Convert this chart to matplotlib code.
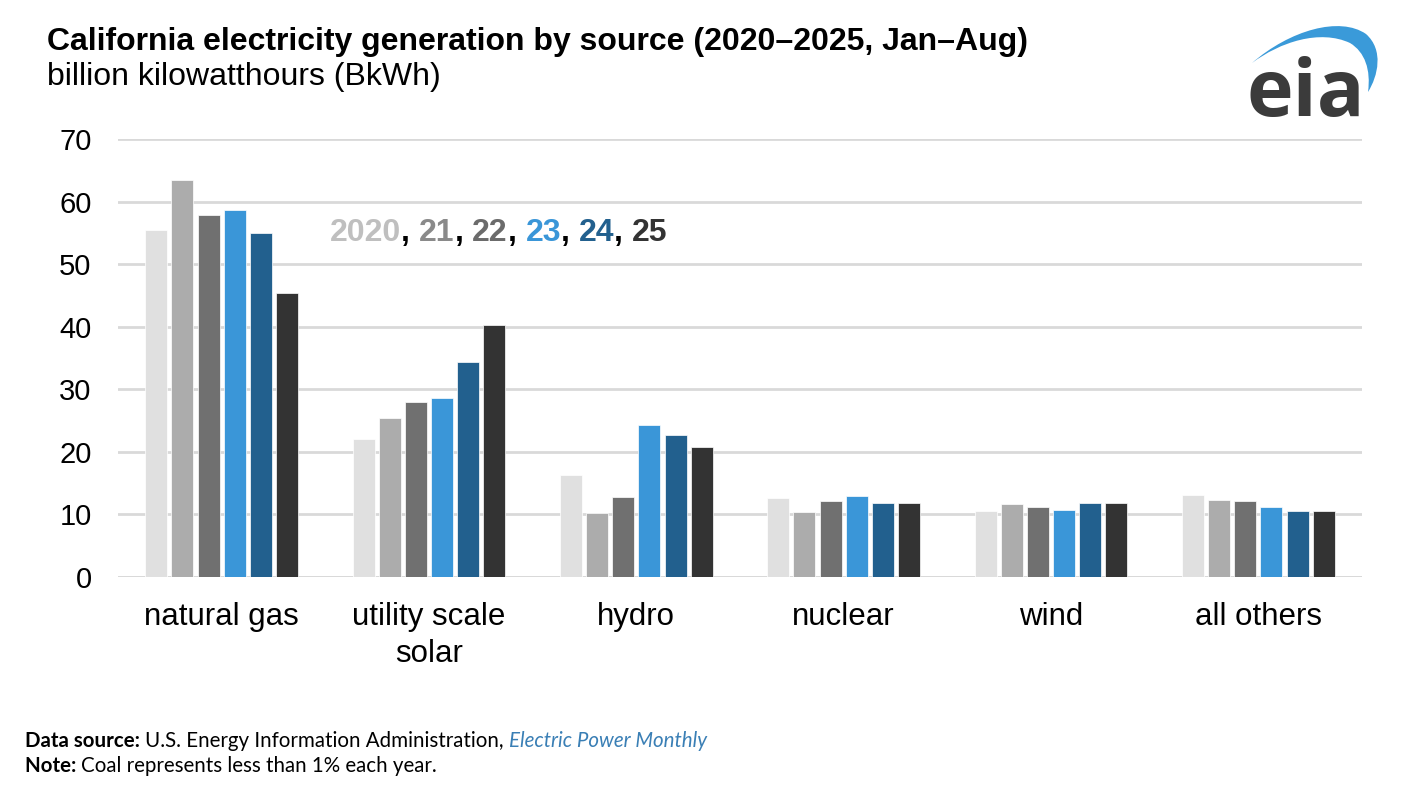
import matplotlib
matplotlib.use("Agg")
import matplotlib.pyplot as plt
import numpy as np
from matplotlib.patches import PathPatch
from matplotlib.path import Path

plt.rcParams["font.family"] = ["Liberation Sans", "DejaVu Sans"]

categories = ["natural gas", "utility scale\nsolar", "hydro", "nuclear", "wind", "all others"]
years = ["2020", "21", "22", "23", "24", "25"]
bar_colors = ["#e0e0e0", "#acacac", "#707070", "#3a96d8", "#22608e", "#333333"]
label_colors = ["#bfbfbf", "#8a8a8a", "#6b6b6b", "#3a96d8", "#22608e", "#333333"]

gen_2020 = [55.5, 22.1, 16.3, 12.6, 10.5, 13.1]
gen_2021 = [63.4, 25.4, 10.2, 10.4, 11.7, 12.3]
gen_2022 = [57.9, 28.0, 12.8, 12.1, 11.2, 12.1]
gen_2023 = [58.7, 28.6, 24.3, 12.9, 10.7, 11.2]
gen_2024 = [55.0, 34.4, 22.7, 11.8, 11.8, 10.5]
gen_2025 = [45.4, 40.3, 20.8, 11.8, 11.8, 10.5]
series = [gen_2020, gen_2021, gen_2022, gen_2023, gen_2024, gen_2025]

fig = plt.figure(figsize=(14.14, 8.02), dpi=100)
ax = fig.add_axes([118 / 1414, 1 - 577 / 802, 1244 / 1414, 438 / 802])

x = np.arange(len(categories))
pitch = 0.126
width = 0.106
for i, vals in enumerate(series):
    ax.bar(x + (i - 2.5) * pitch, vals, width, color=bar_colors[i],
           edgecolor="white", linewidth=0.5, zorder=3)

ax.set_xlim(-0.5, 5.5)
ax.set_ylim(0, 70)
ax.set_yticks(range(0, 71, 10))
ax.yaxis.grid(True, color="#d9d9d9", linewidth=2, zorder=0)
ax.axhline(0, color="#d9d9d9", linewidth=2, zorder=1)
for s in ax.spines.values():
    s.set_visible(False)
ax.tick_params(axis="both", length=0, colors="black")
ax.tick_params(axis="y", pad=19, labelsize=21)
ax.tick_params(axis="x", pad=18, labelsize=22.5)
ax.set_xticks(x)
ax.set_xticklabels(categories, linespacing=1.3)

# year legend as coloured text
fig.canvas.draw()
renderer = fig.canvas.get_renderer()
xpos = 330
for i, yr in enumerate(years):
    t = fig.text(xpos / 1414, 1 - 233 / 802, yr, color=label_colors[i],
                 fontsize=23, fontweight="bold", va="center", ha="left")
    xpos += t.get_window_extent(renderer).width
    if i < len(years) - 1:
        t = fig.text(xpos / 1414, 1 - 233 / 802, ", ", color="black",
                     fontsize=23, fontweight="bold", va="center", ha="left")
        xpos += t.get_window_extent(renderer).width

fig.text(47 / 1414, 1 - 42 / 802, "California electricity generation by source (2020\u20132025, Jan\u2013Aug)",
         fontsize=23, fontweight="bold", va="center", ha="left")
fig.text(47 / 1414, 1 - 77 / 802, "billion kilowatthours (BkWh)",
         fontsize=23, va="center", ha="left")

# footer
foot = ["Lato", "DejaVu Sans"]
fs = 14.8
xpos = 25
y1 = 1 - 741 / 802
t = fig.text(xpos / 1414, y1, "Data source: ", family=foot, fontweight="bold", fontsize=fs, va="center")
xpos += t.get_window_extent(renderer).width
t = fig.text(xpos / 1414, y1, "U.S. Energy Information Administration, ", family=foot, fontsize=fs, va="center")
xpos += t.get_window_extent(renderer).width
fig.text(xpos / 1414, y1, "Electric Power Monthly", family=foot, fontsize=fs, style="italic",
         color="#3a7fb5", va="center")
y2 = 1 - 766 / 802
t = fig.text(25 / 1414, y2, "Note: ", family=foot, fontweight="bold", fontsize=fs, va="center")
fig.text(25 / 1414 + t.get_window_extent(renderer).width / 1414, y2,
         "Coal represents less than 1% each year.", family=foot, fontsize=fs, va="center")

# eia logo
fig.text(1306 / 1414, 1 - 116 / 802, "eia", family=["Open Sans", "DejaVu Sans"], fontweight="bold",
         fontsize=57, color="#3b3b3b", ha="center", va="baseline")
lax = fig.add_axes([0, 0, 1, 1], facecolor="none")
lax.set_xlim(0, 1414)
lax.set_ylim(802, 0)
lax.axis("off")
verts = [(1252, 63),
         (1290, 30), (1340, 16), (1366, 34),
         (1384, 50), (1378, 76), (1368, 92),
         (1371, 70), (1365, 52), (1350, 43),
         (1320, 29), (1280, 42), (1252, 63)]
codes = [Path.MOVETO] + [Path.CURVE4] * 12
lax.add_patch(PathPatch(Path(verts, codes), facecolor="#3a9ad9", edgecolor="none"))

fig.savefig("out.png", dpi=100)
